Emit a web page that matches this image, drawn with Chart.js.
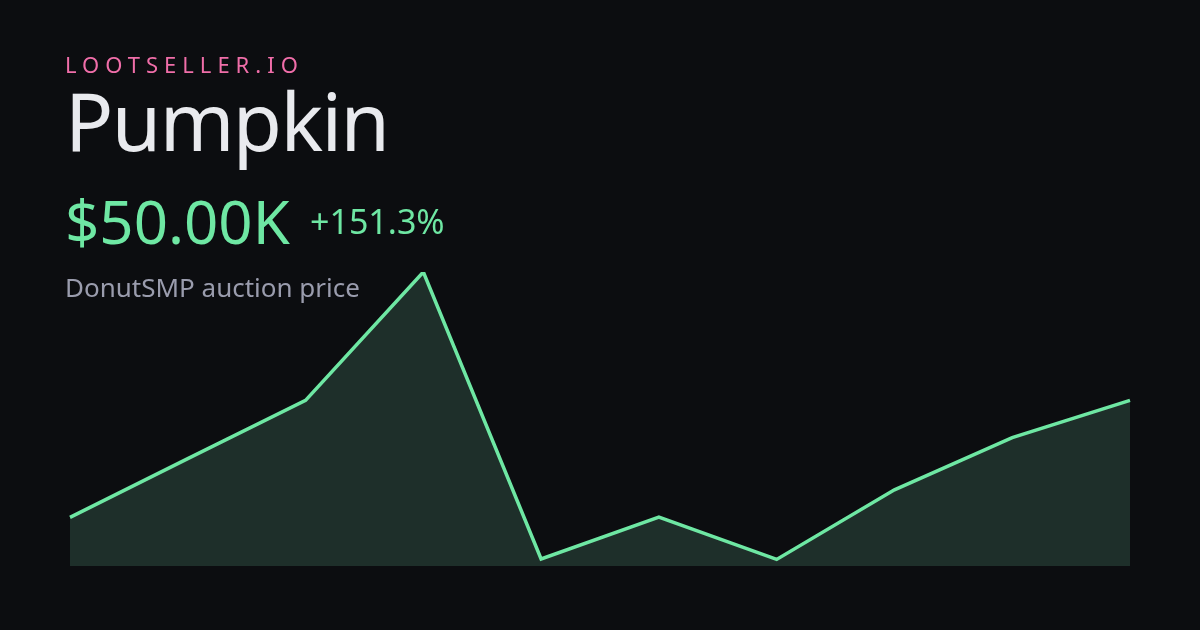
<!DOCTYPE html>
<html>
<head>
<meta charset="utf-8">
<script src="https://cdn.jsdelivr.net/npm/chart.js@4"></script>
<style>
  html, body { margin: 0; padding: 0; background: #0c0d10; }
  #wrap { position: relative; width: 1200px; height: 630px; overflow: hidden; font-family: "Noto Sans", sans-serif; }
  #chart { position: absolute; left: 0; top: 0; }
  .t { position: absolute; left: 65px; line-height: 1; white-space: nowrap; }
  #brand { top: 52.5px; font-size: 22px; color: #f06ea9; letter-spacing: 6px; }
  #title { top: 80px; font-size: 80px; color: #e9eaee; letter-spacing: -1.6px; }
  #price { top: 191px; font-size: 60px; color: #6ee7a3; }
  #change { top: 204px; left: 310px; font-size: 34px; color: #6ee7a3; }
  #sub { top: 274px; font-size: 26px; color: #9a9cad; }
</style>
</head>
<body>
<div id="wrap">
  <canvas id="chart" width="1200" height="630"></canvas>
  <div class="t" id="brand">LOOTSELLER.IO</div>
  <div class="t" id="title">Pumpkin</div>
  <div class="t" id="price">$50.00K</div>
  <div class="t" id="change">+151.3%</div>
  <div class="t" id="sub">DonutSMP auction price</div>
</div>
<script>
// 価格の推移 (ドル)
const labels = ['1', '2', '3', '4', '5', '6', '7', '8', '9', '10']
const prices = [19900, 35000, 50000, 83000, 9200, 20000, 9100, 27000, 40400, 50000]
const yMin = 7400
const yMax = 83000

const ctx = document.getElementById('chart').getContext('2d')
new Chart(ctx, {
  type: 'line',
  data: {
    labels: labels,
    datasets: [{
      data: prices,
      borderColor: '#6ee7a3',
      backgroundColor: '#1e2f2a',
      borderWidth: 3.5,
      fill: 'start',
      tension: 0,
      pointRadius: 0,
      borderJoinStyle: 'miter'
    }]
  },
  options: {
    responsive: false,
    animation: false,
    layout: {
      padding: { left: 70, right: 70, top: 272, bottom: 64 }
    },
    plugins: {
      legend: { display: false },
      tooltip: { enabled: false }
    },
    scales: {
      x: { display: false, offset: false },
      y: { display: false, min: yMin, max: yMax }
    }
  }
})
</script>
</body>
</html>
